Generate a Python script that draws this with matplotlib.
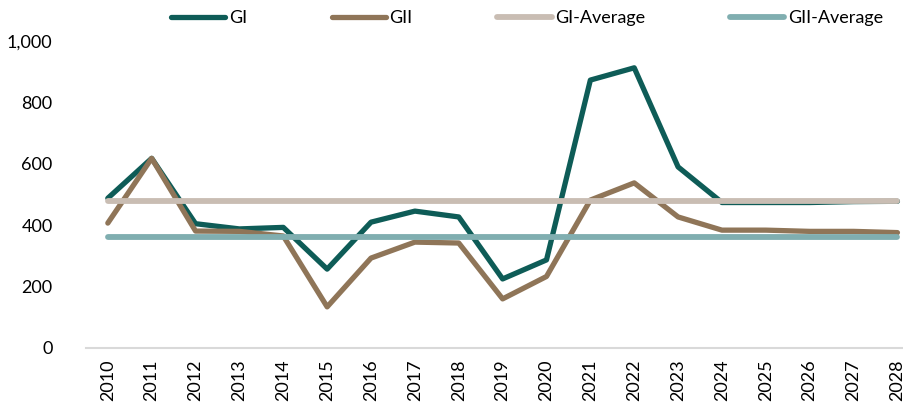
import matplotlib
matplotlib.use("Agg")
import matplotlib.pyplot as plt

years = [str(y) for y in range(2010, 2029)]
gi = [488, 618, 405, 388, 393, 257, 410, 446, 427, 225, 287, 873, 913, 590, 474, 474, 474, 477, 478]
gii = [407, 618, 381, 380, 365, 134, 293, 345, 342, 160, 233, 482, 538, 427, 384, 384, 380, 380, 376]
gi_avg = 479
gii_avg = 362
yticks = [0, 200, 400, 600, 800, 1000]
ytick_labels = ["0", "200", "400", "600", "800", "1,000"]

plt.rcParams['font.family'] = ['Lato', 'DejaVu Sans']

fig = plt.figure(figsize=(9.04, 4.07), dpi=100)
ax = fig.add_axes([0.095, 0.145, 0.922, 0.754])

x = list(range(len(years)))
ax.plot(x, gi, color='#0e5c57', lw=3.8, solid_capstyle='round', solid_joinstyle='round', label='GI', zorder=2)
ax.plot(x, gii, color='#8f7558', lw=3.8, solid_capstyle='round', solid_joinstyle='round', label='GII', zorder=3)
ax.plot(x, [gi_avg] * len(x), color='#c9bdb3', lw=4.2, solid_capstyle='round', label='GI-Average', zorder=4)
ax.plot(x, [gii_avg] * len(x), color='#80aeb0', lw=4.2, solid_capstyle='round', label='GII-Average', zorder=5)
ax.set_xlim(-0.5, len(years) - 0.5)
ax.set_ylim(0, 1000)
ax.set_yticks(yticks)
ax.set_yticklabels(ytick_labels, fontsize=13)
ax.set_xticks(x)
ax.set_xticklabels(years, rotation=90, fontsize=13)
ax.tick_params(length=0, pad=8)
ax.tick_params(axis='y', pad=24)
for s in ['top', 'right', 'left']:
    ax.spines[s].set_visible(False)
ax.spines['bottom'].set_color('#d9d9d9')
ax.spines['bottom'].set_linewidth(1.5)

h, l = ax.get_legend_handles_labels()
order = ['GI', 'GII', 'GI-Average', 'GII-Average']
hh = [h[l.index(o)] for o in order]
leg = fig.legend(hh, order, loc='center', bbox_to_anchor=(0.583, 0.955), ncol=4, frameon=False,
                 fontsize=13, handlelength=3, handletextpad=0.2, columnspacing=4.7)

fig.savefig('out.png', dpi=100)
